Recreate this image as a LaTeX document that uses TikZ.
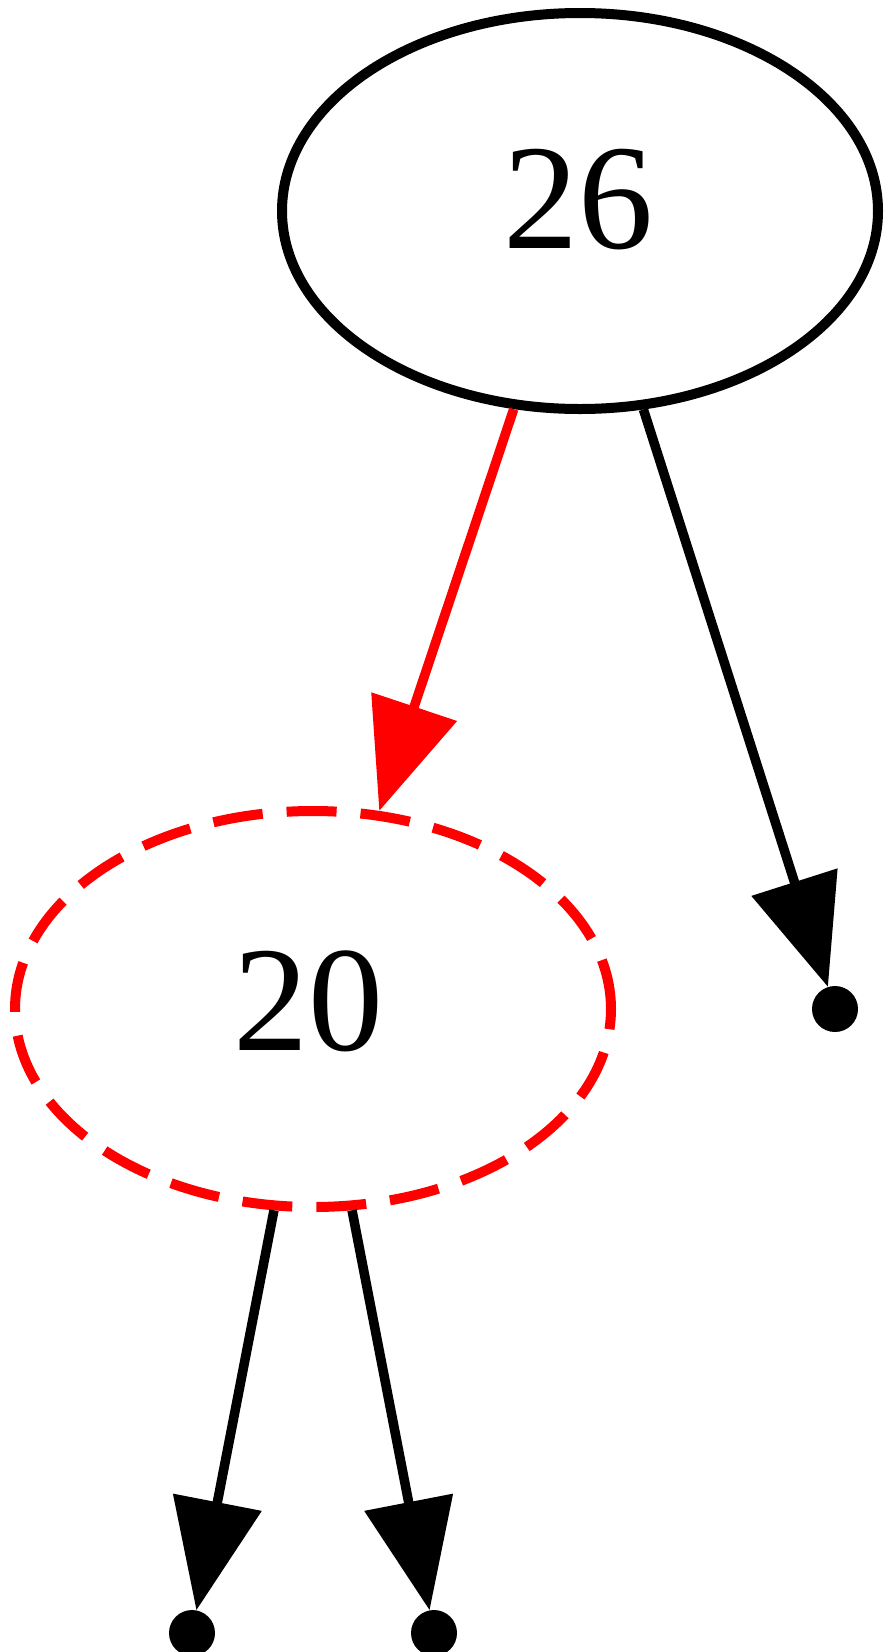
\documentclass[tikz,border=0pt]{standalone}
\usepackage{fontspec}
\setmainfont{LiberationSerif-Regular.ttf}
\usetikzlibrary{shapes.geometric,arrows.meta}
\begin{document}
\begin{tikzpicture}[x=1pt,y=-1pt,
  treenode/.style={ellipse, draw, line width=10pt, minimum width=596pt, minimum height=396pt, inner sep=0pt},
  nodetext/.style={inner sep=0pt, font=\fontsize{150}{150}\selectfont},
  leafdot/.style={circle, fill=black, minimum size=46pt, inner sep=0pt},
  edge/.style={line width=9.5pt, -{Triangle[length=110pt,width=88pt]}}]
\useasboundingbox (0,0) rectangle (884,1652);
\node[treenode] (n26) at (580,211) {};
\node[nodetext] (t26) at (578,200) {26};
\node[treenode, draw=red, dash pattern=on 50pt off 24pt] (n20) at (313,1009) {};
\node[nodetext] (t20) at (308,1001) {20};
\node[leafdot] (r) at (835,1009) {};
\node[leafdot] (ll) at (192,1633) {};
\node[leafdot] (lr) at (434,1633) {};
\draw[edge, red] (n26) -- (n20);
\draw[edge] (n26) -- (r);
\draw[edge] (n20) -- (ll);
\draw[edge] (n20) -- (lr);
\end{tikzpicture}
\end{document}
